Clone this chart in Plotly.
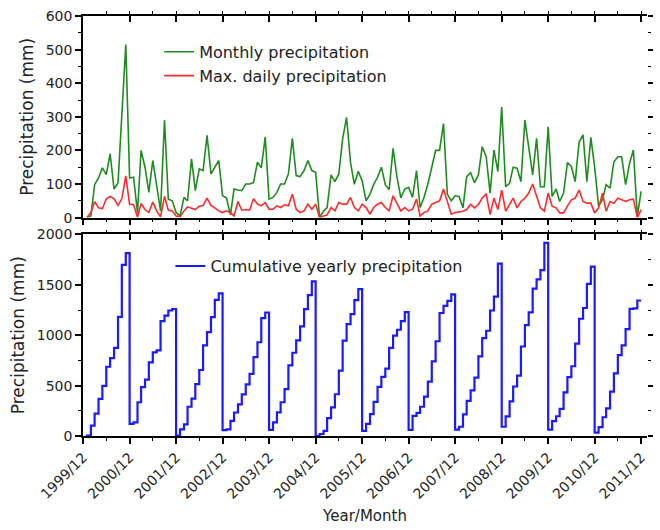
import pandas as pd
import plotly.graph_objects as go

# ---------------- data ----------------
months = pd.date_range("2000-01-01", periods=144, freq="MS")

monthly_2000 = [0, 5, 98, 118, 148, 128, 190, 85, 103, 307, 515, 118]
monthly_2001 = [120, 15, 200, 150, 75, 170, 100, 20, 290, 55, 50, 15]
monthly_2002 = [5, 60, 50, 175, 80, 145, 140, 245, 130, 150, 170, 65]
monthly_2003 = [58, 8, 85, 82, 80, 100, 100, 104, 165, 148, 240, 55]
monthly_2004 = [60, 75, 100, 100, 130, 236, 125, 122, 140, 170, 140, 135]
monthly_2005 = [0, 20, 30, 127, 107, 130, 235, 298, 163, 99, 138, 110]
monthly_2006 = [50, 70, 98, 120, 150, 98, 83, 206, 120, 59, 85, 90]
monthly_2007 = [60, 140, 30, 60, 100, 150, 200, 200, 280, 70, 50, 65]
monthly_2008 = [63, 29, 122, 134, 104, 127, 211, 181, 73, 201, 137, 329]
monthly_2009 = [92, 102, 150, 147, 107, 290, 211, 127, 236, 92, 92, 270]
monthly_2010 = [63, 85, 48, 73, 164, 152, 107, 225, 246, 107, 239, 150]
monthly_2011 = [34, 54, 98, 88, 166, 181, 181, 98, 161, 201, 4, 78]

maxdaily_2000 = [0, 15, 48, 29, 27, 56, 63, 56, 36, 56, 124, 39]
maxdaily_2001 = [39, 2, 42, 24, 15, 46, 20, 2, 63, 22, 20, 5]
maxdaily_2002 = [2, 20, 32, 29, 24, 34, 36, 58, 36, 29, 20, 15]
maxdaily_2003 = [20, 15, 5, 48, 22, 24, 22, 56, 40, 35, 45, 25]
maxdaily_2004 = [25, 35, 30, 38, 35, 70, 25, 15, 20, 40, 25, 40]
maxdaily_2005 = [0, 5, 8, 30, 20, 45, 40, 40, 60, 30, 20, 40]
maxdaily_2006 = [30, 10, 30, 40, 45, 30, 20, 65, 40, 20, 30, 20]
maxdaily_2007 = [25, 55, 5, 15, 20, 40, 45, 50, 85, 45, 10, 15]
maxdaily_2008 = [16, 19, 24, 39, 29, 39, 58, 71, 9, 58, 24, 82]
maxdaily_2009 = [19, 39, 58, 29, 48, 58, 73, 100, 60, 29, 19, 73]
maxdaily_2010 = [34, 29, 14, 14, 34, 53, 58, 82, 48, 43, 43, 14]
maxdaily_2011 = [29, 73, 19, 48, 43, 58, 53, 48, 53, 55, 0, 24]

cumulative_2000 = [0, 5, 103, 221, 369, 497, 687, 772, 875, 1182, 1697, 1815]
cumulative_2001 = [120, 135, 335, 485, 560, 730, 830, 850, 1140, 1195, 1245, 1260]
cumulative_2002 = [5, 65, 115, 290, 370, 515, 655, 900, 1030, 1180, 1350, 1415]
cumulative_2003 = [58, 66, 151, 233, 313, 413, 513, 617, 782, 930, 1170, 1225]
cumulative_2004 = [60, 135, 235, 335, 465, 701, 826, 948, 1088, 1258, 1398, 1533]
cumulative_2005 = [0, 20, 50, 177, 284, 414, 649, 947, 1110, 1209, 1347, 1457]
cumulative_2006 = [50, 120, 218, 338, 488, 586, 669, 875, 995, 1054, 1139, 1229]
cumulative_2007 = [60, 200, 230, 290, 390, 540, 740, 940, 1220, 1290, 1340, 1405]
cumulative_2008 = [63, 92, 214, 348, 452, 579, 790, 971, 1044, 1245, 1382, 1711]
cumulative_2009 = [92, 194, 344, 491, 598, 888, 1099, 1226, 1462, 1554, 1646, 1916]
cumulative_2010 = [63, 148, 196, 269, 433, 585, 692, 917, 1163, 1270, 1509, 1680]
cumulative_2011 = [34, 88, 186, 274, 440, 621, 802, 900, 1061, 1262, 1266, 1344]

tick_dates = ["1999-12-01", "2000-12-01", "2001-12-01", "2002-12-01", "2003-12-01",
              "2004-12-01", "2005-12-01", "2006-12-01", "2007-12-01", "2008-12-01",
              "2009-12-01", "2010-12-01", "2011-12-01"]
tick_labels = ["1999/12", "2000/12", "2001/12", "2002/12", "2003/12", "2004/12",
               "2005/12", "2006/12", "2007/12", "2008/12", "2009/12", "2010/12", "2011/12"]

monthly = (monthly_2000 + monthly_2001 + monthly_2002 + monthly_2003 + monthly_2004 +
           monthly_2005 + monthly_2006 + monthly_2007 + monthly_2008 + monthly_2009 +
           monthly_2010 + monthly_2011)
maxdaily = (maxdaily_2000 + maxdaily_2001 + maxdaily_2002 + maxdaily_2003 + maxdaily_2004 +
            maxdaily_2005 + maxdaily_2006 + maxdaily_2007 + maxdaily_2008 + maxdaily_2009 +
            maxdaily_2010 + maxdaily_2011)
cumulative = (cumulative_2000 + cumulative_2001 + cumulative_2002 + cumulative_2003 +
              cumulative_2004 + cumulative_2005 + cumulative_2006 + cumulative_2007 +
              cumulative_2008 + cumulative_2009 + cumulative_2010 + cumulative_2011)

# ---------------- figure ----------------
FONT = "DejaVu Sans"
TXT = "#222"
XRANGE = ["1999-12-01", "2012-01-16"]

fig = go.Figure()
fig.add_trace(go.Scatter(x=months, y=monthly, mode="lines", name="Monthly precipitation",
                         line=dict(color="#1e8c1e", width=1.6), xaxis="x", yaxis="y",
                         legend="legend"))
fig.add_trace(go.Scatter(x=months, y=maxdaily, mode="lines", name="Max. daily precipitation",
                         line=dict(color="#ff2a2a", width=1.6), xaxis="x", yaxis="y",
                         legend="legend"))
fig.add_trace(go.Scatter(x=months, y=cumulative, mode="lines", line_shape="vh",
                         name="Cumulative yearly precipitation",
                         line=dict(color="#1a1aff", width=2.2), xaxis="x2", yaxis="y2",
                         legend="legend2"))
# empty helper traces so that the mirrored frame axes are drawn
for xa, ya in [("x3", "y"), ("x4", "y2"), ("x", "y3"), ("x2", "y4")]:
    fig.add_trace(go.Scatter(x=[], y=[], xaxis=xa, yaxis=ya, showlegend=False,
                             hoverinfo="skip"))

common_x = dict(type="date", range=XRANGE, tickvals=tick_dates, ticktext=tick_labels,
                showline=True, linecolor="black", linewidth=1.6, showgrid=False,
                zeroline=False, tickcolor="black", tickwidth=1.6,
                minor=dict(dtick="M6", tick0="1999-12-01", ticklen=3, tickwidth=1.4,
                           tickcolor="black", showgrid=False))

fig.update_layout(
    width=660, height=530,
    margin=dict(l=83, r=8, t=16, b=93),
    paper_bgcolor="white", plot_bgcolor="white",
    font=dict(family=FONT, size=14, color=TXT),
    xaxis=dict(common_x, anchor="y", ticks="outside", ticklen=6, showticklabels=False,
               domain=[0, 1]),
    xaxis2=dict(common_x, anchor="y2", ticks="outside", ticklen=6, showticklabels=True,
                tickangle=-45, tickfont=dict(size=14, family=FONT, color=TXT),
                title=dict(text="Year/Month", font=dict(size=15, family=FONT, color=TXT),
                           standoff=10),
                domain=[0, 1]),
    xaxis3=dict(common_x, anchor="y", overlaying="x", side="top", ticks="inside", ticklen=6,
                showticklabels=False),
    xaxis4=dict(common_x, anchor="y2", overlaying="x2", side="top", ticks="inside", ticklen=6,
                showticklabels=False),
    yaxis=dict(domain=[0.52, 1], range=[0, 600], tickvals=[0, 100, 200, 300, 400, 500, 600],
               ticks="outside", ticklen=6, tickwidth=1.6, tickcolor="black",
               showline=True, linecolor="black", linewidth=1.6, showgrid=False, zeroline=False,
               minor=dict(dtick=50, ticklen=3, tickwidth=1.4, tickcolor="black"),
               tickfont=dict(size=14, family=FONT, color=TXT),
               title=dict(text="Precipitation (mm)", font=dict(size=17, family=FONT, color=TXT),
                          standoff=8),
               anchor="x"),
    yaxis2=dict(domain=[0, 0.48], range=[0, 2000], tickvals=[0, 500, 1000, 1500, 2000],
                ticks="outside", ticklen=6, tickwidth=1.6, tickcolor="black",
                showline=True, linecolor="black", linewidth=1.6, showgrid=False, zeroline=False,
                minor=dict(dtick=250, ticklen=3, tickwidth=1.4, tickcolor="black"),
                tickfont=dict(size=14, family=FONT, color=TXT),
                title=dict(text="Precipitation (mm)", font=dict(size=17, family=FONT, color=TXT),
                           standoff=8),
                anchor="x2"),
    yaxis3=dict(overlaying="y", side="right", anchor="x", range=[0, 600],
                tickvals=[0, 100, 200, 300, 400, 500, 600], ticks="outside", ticklen=5,
                tickwidth=1.6, tickcolor="black", showticklabels=False, showline=False,
                showgrid=False, zeroline=False,
                minor=dict(dtick=50, ticklen=3, tickwidth=1.4, tickcolor="black")),
    yaxis4=dict(overlaying="y2", side="right", anchor="x2", range=[0, 2000],
                tickvals=[0, 500, 1000, 1500, 2000], ticks="outside", ticklen=5,
                tickwidth=1.6, tickcolor="black", showticklabels=False, showline=False,
                showgrid=False, zeroline=False,
                minor=dict(dtick=250, ticklen=3, tickwidth=1.4, tickcolor="black")),
    legend=dict(x=0.135, y=0.955, xanchor="left", yanchor="top", bgcolor="rgba(0,0,0,0)",
                font=dict(size=16, family=FONT, color=TXT), tracegroupgap=0,
                itemwidth=30),
    legend2=dict(x=0.155, y=0.445, xanchor="left", yanchor="top", bgcolor="rgba(0,0,0,0)",
                 font=dict(size=16, family=FONT, color=TXT), itemwidth=30),
    showlegend=True,
)

fig.write_html("out.html")
